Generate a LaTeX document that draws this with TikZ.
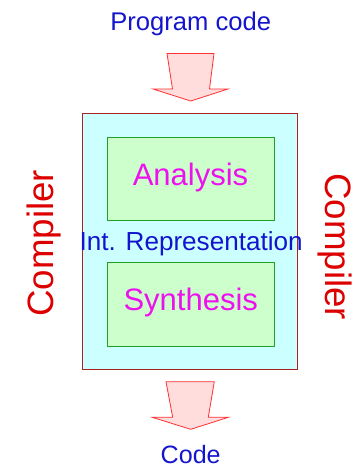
\documentclass[tikz,border=0pt]{standalone}
\usepackage{fontspec}
\setmainfont{Liberation Sans}
\definecolor{txtblue}{HTML}{1414CC}
\definecolor{txtmag}{HTML}{EE11EE}
\definecolor{txtred}{HTML}{DD0000}
\definecolor{outerfill}{HTML}{CCFFFF}
\definecolor{outerdraw}{HTML}{AA2222}
\definecolor{innerfill}{HTML}{CCFFCC}
\definecolor{innerdraw}{HTML}{22A022}
\definecolor{arrfill}{HTML}{FFDDDD}
\definecolor{arrdraw}{HTML}{FF3030}
\tikzset{
  bluetxt/.style={text=txtblue, inner sep=0pt, anchor=base},
  magtxt/.style={text=txtmag, inner sep=0pt, anchor=base, font=\fontsize{31}{31}\selectfont},
  redtxt/.style={text=txtred, inner sep=0pt, anchor=base, font=\fontsize{36.7}{37}\selectfont},
  outerbox/.style={fill=outerfill, draw=outerdraw, line width=0.9pt},
  innerbox/.style={fill=innerfill, draw=innerdraw, line width=0.9pt},
  blockarrow/.style={fill=arrfill, draw=arrdraw, line width=0.8pt, line join=miter}
}
\begin{document}
\begin{tikzpicture}[x=1pt,y=-1pt]
\useasboundingbox (0,0) rectangle (358,471);
% top block arrow
\draw[blockarrow] (167,53.5) -- (214,53.5) -- (209.5,89) -- (228,89) -- (190.7,101) -- (153,89) -- (172.5,89) -- cycle;
% outer box
\node[outerbox, minimum width=215pt, minimum height=256pt, inner sep=0pt] (outer) at (190.2,241.3) {};
% inner boxes
\node[innerbox, minimum width=167pt, minimum height=82.7pt, inner sep=0pt] (anabox) at (190.8,178.7) {};
\node[innerbox, minimum width=167pt, minimum height=83.3pt, inner sep=0pt] (synbox) at (190.8,304.4) {};
% texts
\node[bluetxt, font=\fontsize{25.6}{26}\selectfont] (prog) at (190.7,30) {Program code};
\node[magtxt] (ana) at (190.5,185) {Analysis};
\node[magtxt] (syn) at (190.7,310.7) {Synthesis};
\node[bluetxt, font=\fontsize{26.1}{26}\selectfont] (irep) at (191.2,250.7) {Int. Representation};
\node[bluetxt, font=\fontsize{25.1}{25}\selectfont] (code) at (190.7,463.3) {Code};
\node[redtxt, rotate=90] (compl) at (53.3,243.3) {Compiler};
\node[redtxt, rotate=-90] (compr) at (325,246.7) {Compiler};
% bottom block arrow
\draw[blockarrow] (166,381.7) -- (214.3,381.7) -- (208.3,417.3) -- (228.3,417.3) -- (190.7,429.3) -- (152.3,417.3) -- (172.7,417.3) -- cycle;
\end{tikzpicture}
\end{document}
